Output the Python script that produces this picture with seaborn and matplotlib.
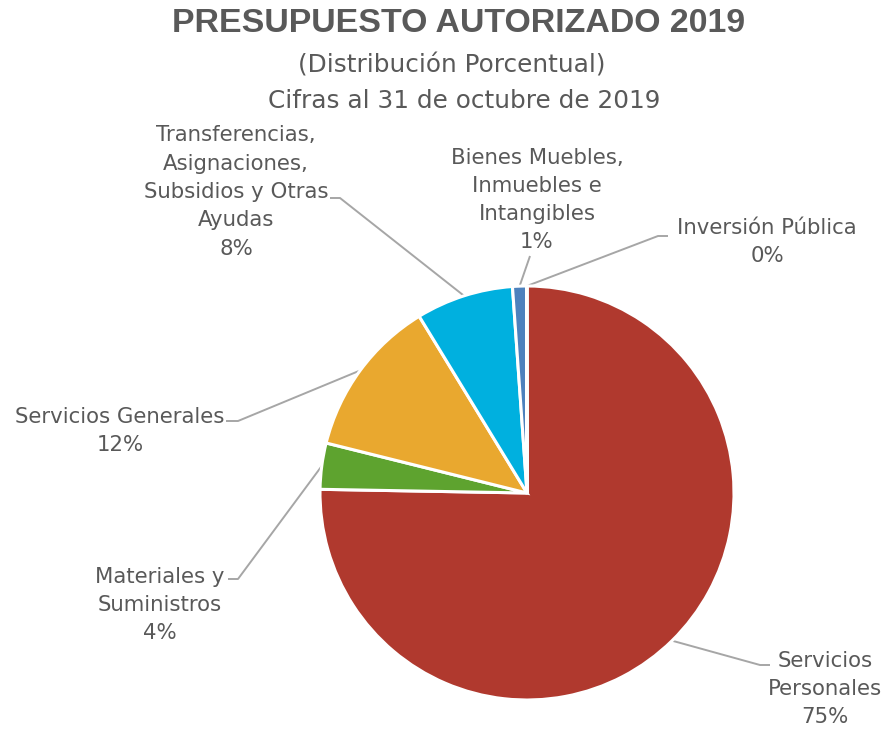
import numpy as np
import matplotlib
matplotlib.use("Agg")
import matplotlib.pyplot as plt
import seaborn as sns

# ---- data ----
categories = ["Servicios Personales", "Materiales y Suministros", "Servicios Generales",
              "Transferencias, Asignaciones, Subsidios y Otras Ayudas",
              "Bienes Muebles, Inmuebles e Intangibles", "Inversión Pública"]
label_lines = ["Servicios\nPersonales", "Materiales y\nSuministros", "Servicios Generales",
               "Transferencias,\nAsignaciones,\nSubsidios y Otras\nAyudas",
               "Bienes Muebles,\nInmuebles e\nIntangibles", "Inversión Pública"]
values = [75.3, 3.6, 12.4, 7.6, 1.1, 0.02]
colors = ["#B0392E", "#5EA32F", "#E9A82F", "#00B0DF", "#4D81BD", "#8E8E8E"]

title = "PRESUPUESTO AUTORIZADO 2019"
subtitle1 = "(Distribución Porcentual)"
subtitle2 = "Cifras al 31 de octubre de 2019"

sns.set_theme(style="white")
plt.rcParams['font.family'] = ['DejaVu Sans']

W, H = 885, 729
fig = plt.figure(figsize=(W / 100, H / 100), dpi=100)
ax = fig.add_axes([0, 0, 1, 1])
ax.set_xlim(0, W)
ax.set_ylim(0, H)
ax.set_aspect('equal')
ax.axis('off')

cx, cy, R = 527, H - 493, 207
wedges, _ = ax.pie(values, colors=colors, startangle=90, counterclock=False,
                   center=(cx, cy), radius=R,
                   wedgeprops=dict(edgecolor="white", linewidth=2.2))
ax.set_xlim(0, W)
ax.set_ylim(0, H)

txt_color = "#595959"
line_color = "#A6A6A6"

# layout: text centre (x, y-down), leader start point (y-down), elbow point
layout = [
    dict(pos=(825, 689), start=(770, 665), elbow=(760, 665)),
    dict(pos=(160, 605), start=(228, 579), elbow=(238, 579)),
    dict(pos=(120, 431), start=(226, 421), elbow=(238, 421)),
    dict(pos=(236, 192), start=(330, 198), elbow=(340, 198)),
    dict(pos=(537, 200), start=(530, 256), elbow=(530, 256)),
    dict(pos=(767, 242), start=(668, 236), elbow=(658, 236)),
]

for w, lab, v, lay in zip(wedges, label_lines, values, layout):
    pct = f"{round(v)}%"
    x, y = lay["pos"]
    ax.text(x, H - y, f"{lab}\n{pct}", ha="center", va="center", fontsize=15.3,
            color=txt_color, linespacing=1.52)
    mid = np.deg2rad((w.theta1 + w.theta2) / 2)
    px = w.center[0] + w.r * np.cos(mid)
    py = w.center[1] + w.r * np.sin(mid)
    sx, sy = lay["start"]
    ex, ey = lay["elbow"]
    ax.plot([sx, ex, px], [H - sy, H - ey, py], color=line_color, lw=1.4,
            solid_capstyle="butt", zorder=0)

fig.text(459 / W, 1 - 23 / H, title, ha="center", va="center", fontsize=24.4,
         fontweight="bold", color=txt_color, family=["Liberation Sans", "DejaVu Sans"])
fig.text(452 / W, 1 - 66 / H, subtitle1, ha="center", va="center", fontsize=17.8,
         color=txt_color)
fig.text(464 / W, 1 - 101 / H, subtitle2, ha="center", va="center", fontsize=17.8,
         color=txt_color)

fig.savefig("out.png", dpi=100, facecolor="white")
